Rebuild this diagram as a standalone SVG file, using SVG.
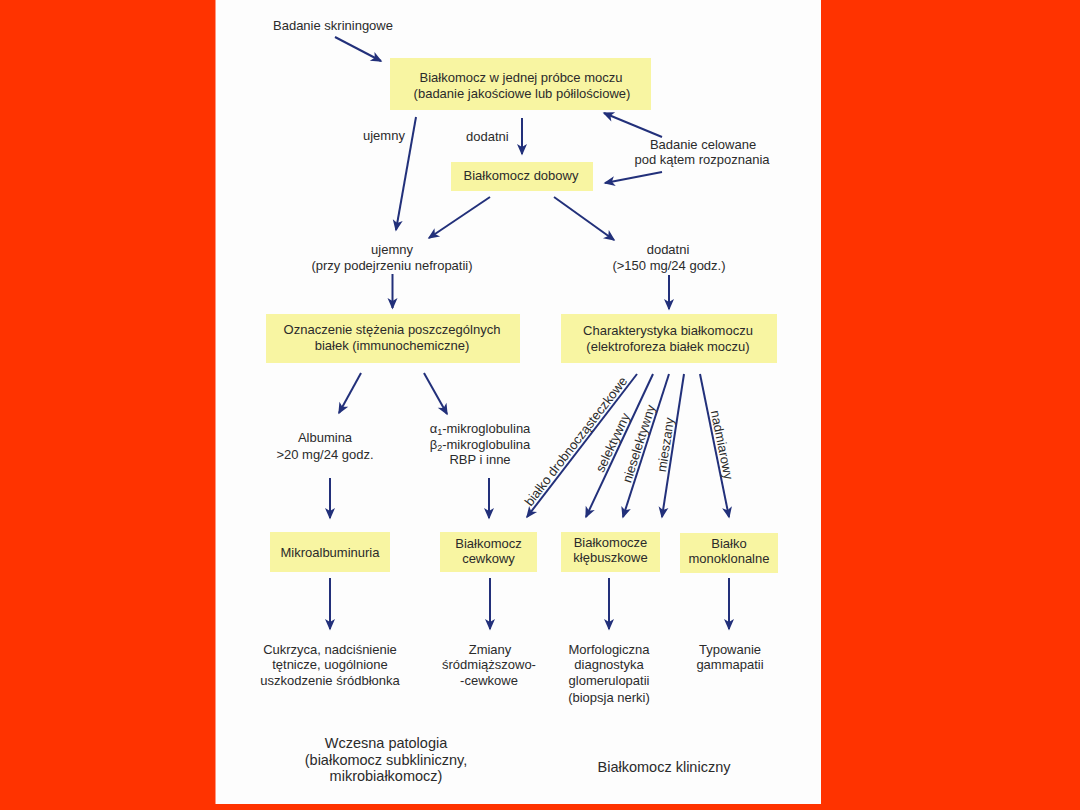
<svg xmlns="http://www.w3.org/2000/svg" width="1080" height="810" viewBox="0 0 1080 810">
<style>
text{font-family:"Liberation Sans",Arial,sans-serif;font-size:13px;fill:#2b2b2b}
.m{text-anchor:middle}
.big{font-size:14.5px}
.box{fill:#f8f5a2}
.ar{stroke:#22307a;stroke-width:2;fill:none;marker-end:url(#ah)}
.sub{font-size:9px}
</style>
<defs>
<marker id="ah" markerUnits="userSpaceOnUse" viewBox="-12 -6 14 12" refX="0" refY="0" markerWidth="14" markerHeight="12" orient="auto">
<path d="M1.5,0 L-10,-5 L-7,0 L-10,5 Z" fill="#22307a"/>
</marker>
</defs>
<rect x="0" y="0" width="1080" height="810" fill="#ff3300"/>
<rect x="215.5" y="0" width="605.5" height="804" fill="#fdfdfd"/>

<g id="connectors">
<line class="ar" x1="335" y1="37" x2="381" y2="61"/>
<line class="ar" x1="416" y1="117" x2="396" y2="230"/>
<line class="ar" x1="522" y1="118" x2="522" y2="154"/>
<line class="ar" x1="662" y1="137" x2="604" y2="113"/>
<line class="ar" x1="662" y1="172" x2="605" y2="183"/>
<line class="ar" x1="490" y1="197" x2="429" y2="238"/>
<line class="ar" x1="554" y1="197" x2="614" y2="240"/>
<line class="ar" x1="392.5" y1="274" x2="392.5" y2="308"/>
<line class="ar" x1="669" y1="275" x2="669" y2="309"/>
<line class="ar" x1="361" y1="373" x2="339" y2="413"/>
<line class="ar" x1="424" y1="373" x2="447" y2="414"/>
<line class="ar" x1="330" y1="478" x2="330" y2="518"/>
<line class="ar" x1="489" y1="478" x2="489" y2="518"/>
<line class="ar" x1="637" y1="374" x2="527" y2="517"/>
<line class="ar" x1="653" y1="374" x2="586" y2="517"/>
<line class="ar" x1="669" y1="374" x2="623" y2="517"/>
<line class="ar" x1="684" y1="374" x2="662" y2="517"/>
<line class="ar" x1="700" y1="374" x2="729" y2="517"/>
<line class="ar" x1="330" y1="578" x2="330" y2="629"/>
<line class="ar" x1="490" y1="578" x2="490" y2="629"/>
<line class="ar" x1="609" y1="578" x2="609" y2="629"/>
<line class="ar" x1="729" y1="578" x2="729" y2="629"/>
<g id="connector-labels">
<text x="363" y="139.5">ujemny</text>
<text x="466" y="140.5">dodatni</text>
<text class="m" transform="translate(581.8,445.8) rotate(-52.4)" x="0" y="-3">białko drobnocząsteczkowe</text>
<text class="m" transform="translate(619.4,445.8) rotate(-64.9)" x="0" y="-3">selektywny</text>
<text class="m" transform="translate(645.9,445.9) rotate(-72.2)" x="0" y="-3">nieselektywny</text>
<text class="m" transform="translate(672.9,445.9) rotate(-81.3)" x="0" y="-3">mieszany</text>
<text class="m" transform="translate(714.7,446.3) rotate(78.5)" x="0" y="-3">nadmiarowy</text>
</g>
</g>

<g id="screening"><text x="273" y="29.5">Badanie skriningowe</text></g>

<g id="box1">
<rect class="box" x="390" y="58" width="261" height="52"/>
<text class="m" x="521" y="82">Białkomocz w jednej próbce moczu</text>
<text class="m" x="522" y="97.5">(badanie jakościowe lub półilościowe)</text>
</g>

<g id="targeted">
<text class="m" x="703" y="148.5">Badanie celowane</text>
<text class="m" x="702" y="163.5">pod kątem rozpoznania</text>
</g>

<g id="box2">
<rect class="box" x="451" y="162" width="142" height="29"/>
<text class="m" x="521" y="179.5">Białkomocz dobowy</text>
</g>

<g id="negative">
<text class="m" x="392" y="253.5">ujemny</text>
<text class="m" x="392" y="269.5">(przy podejrzeniu nefropatii)</text>
</g>

<g id="positive">
<text class="m" x="668" y="253.5">dodatni</text>
<text class="m" x="669" y="269.5">(&gt;150 mg/24 godz.)</text>
</g>

<g id="box3">
<rect class="box" x="266" y="314" width="254" height="49"/>
<text class="m" x="392" y="333.5">Oznaczenie stężenia poszczególnych</text>
<text class="m" x="392" y="349.5">białek (immunochemiczne)</text>
</g>

<g id="box4">
<rect class="box" x="561" y="314" width="216" height="49"/>
<text class="m" x="668" y="335">Charakterystyka białkomoczu</text>
<text class="m" x="668" y="350.5">(elektroforeza białek moczu)</text>
</g>

<g id="albumin">
<text class="m" x="325" y="441.5">Albumina</text>
<text class="m" x="325" y="458.5">&gt;20 mg/24 godz.</text>
</g>

<g id="microglobulins">
<text class="m" x="480" y="432.5">α<tspan class="sub" dy="2">1</tspan><tspan dy="-2">-mikroglobulina</tspan></text>
<text class="m" x="480" y="448.5">β<tspan class="sub" dy="2">2</tspan><tspan dy="-2">-mikroglobulina</tspan></text>
<text class="m" x="480" y="464">RBP i inne</text>
</g>

<g id="box5">
<rect class="box" x="270" y="532" width="120" height="40"/>
<text class="m" x="330" y="556.5">Mikroalbuminuria</text>
</g>

<g id="box6">
<rect class="box" x="440" y="532" width="97" height="40"/>
<text class="m" x="488.5" y="547.5">Białkomocz</text>
<text class="m" x="488.5" y="563">cewkowy</text>
</g>

<g id="box7">
<rect class="box" x="561" y="532" width="99" height="40"/>
<text class="m" x="610.5" y="546.5">Białkomocze</text>
<text class="m" x="610.5" y="562">kłębuszkowe</text>
</g>

<g id="box8">
<rect class="box" x="680" y="533" width="98" height="40"/>
<text class="m" x="729" y="547.5">Białko</text>
<text class="m" x="729" y="563">monoklonalne</text>
</g>

<g id="out1">
<text class="m" x="330" y="653.5">Cukrzyca, nadciśnienie</text>
<text class="m" x="330" y="668.5">tętnicze, uogólnione</text>
<text class="m" x="330" y="684.5">uszkodzenie śródbłonka</text>
</g>

<g id="out2">
<text class="m" x="490" y="653.5">Zmiany</text>
<text class="m" x="489" y="668.5">śródmiąższowo-</text>
<text class="m" x="489" y="684.5">-cewkowe</text>
</g>

<g id="out3">
<text class="m" x="609" y="653.5">Morfologiczna</text>
<text class="m" x="609" y="668.5">diagnostyka</text>
<text class="m" x="609" y="684.5">glomerulopatii</text>
<text class="m" x="609" y="701.5">(biopsja nerki)</text>
</g>

<g id="out4">
<text class="m" x="730" y="653.5">Typowanie</text>
<text class="m" x="730" y="668.5">gammapatii</text>
</g>

<g id="early">
<text class="m big" x="386" y="748">Wczesna patologia</text>
<text class="m big" x="386" y="765">(białkomocz subkliniczny,</text>
<text class="m big" x="386" y="781">mikrobiałkomocz)</text>
</g>

<g id="clinical">
<text class="m big" x="664" y="772">Białkomocz kliniczny</text>
</g>
</svg>
